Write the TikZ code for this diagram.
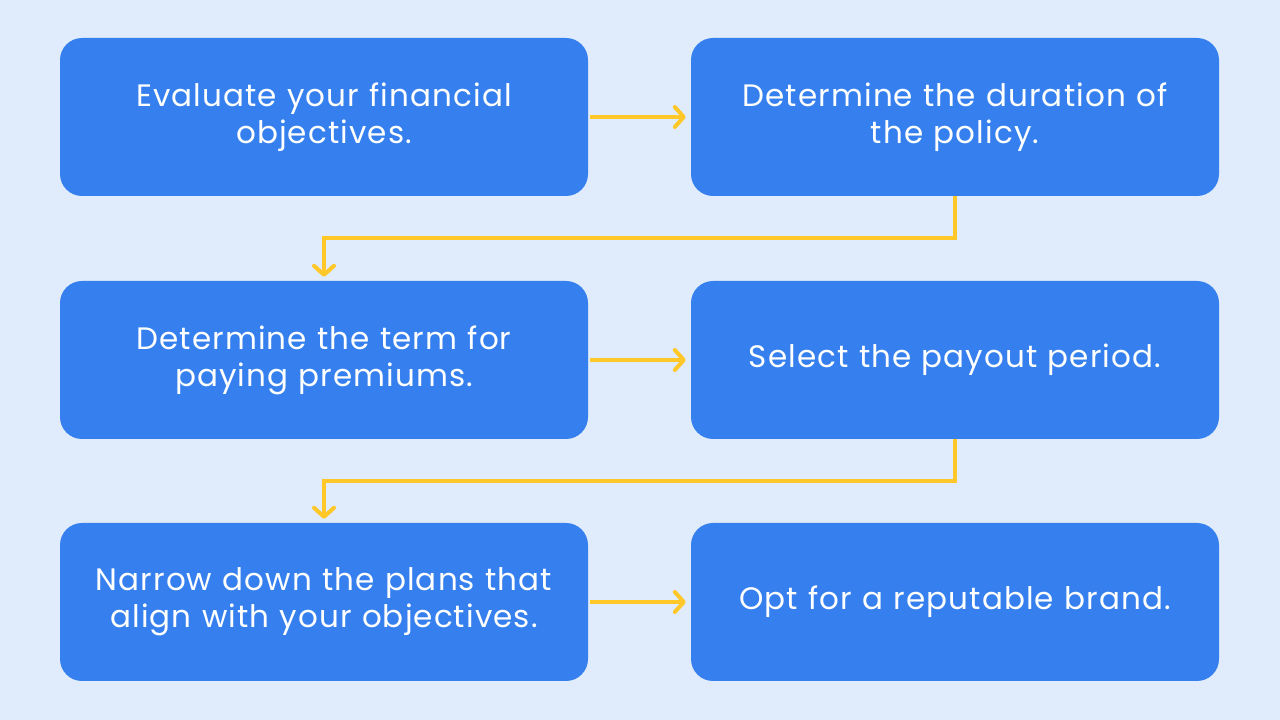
\documentclass[tikz,border=0pt]{standalone}
\usepackage{fontspec}
\setmainfont{Poppins}[LetterSpace=3.5]
\usetikzlibrary{arrows.meta}

\definecolor{bgblue}{RGB}{224,236,252}
\definecolor{boxblue}{RGB}{53,128,238}
\definecolor{flowyellow}{RGB}{255,200,40}

\tikzset{
  stepbox/.style={rectangle, rounded corners=22pt, fill=boxblue, text=white,
    minimum width=528pt, minimum height=158pt, text width=500pt, align=center,
    font=\fontsize{31}{37}\selectfont},
  flow/.style={draw=flowyellow, line width=4pt,
    -{Straight Barb[length=9pt, width=20pt, line width=4pt, round]}}
}

\begin{document}
\begin{tikzpicture}[x=1pt,y=1pt]
\fill[bgblue] (0,0) rectangle (1280,720);
\useasboundingbox (0,0) rectangle (1280,720);
% boxes
\node[stepbox] (evaluate) at (324,603) {Evaluate your financial\\objectives.};
\node[stepbox] (duration) at (955,603) {Determine the duration of\\the policy.};
\node[stepbox] (term) at (324,360) {Determine the term for\\paying premiums.};
\node[stepbox] (payout) at (955,360) {Select the payout period.};
\node[stepbox] (narrow) at (324,118) {Narrow down the plans that\\align with your objectives.};
\node[stepbox] (brand) at (955,118) {Opt for a reputable brand.};
% connectors
\draw[flow, shorten <=2pt, shorten >=5pt] (evaluate.east) -- (duration.west);
\draw[flow, shorten <=2pt, shorten >=5pt] (term.east) -- (payout.west);
\draw[flow, shorten <=2pt, shorten >=5pt] (narrow.east) -- (brand.west);
\draw[flow, shorten >=4pt] (duration.south) -- ++(0,-42) -| (term.north);
\draw[flow, shorten >=4pt] (payout.south) -- ++(0,-42) -| (narrow.north);
\end{tikzpicture}
\end{document}
